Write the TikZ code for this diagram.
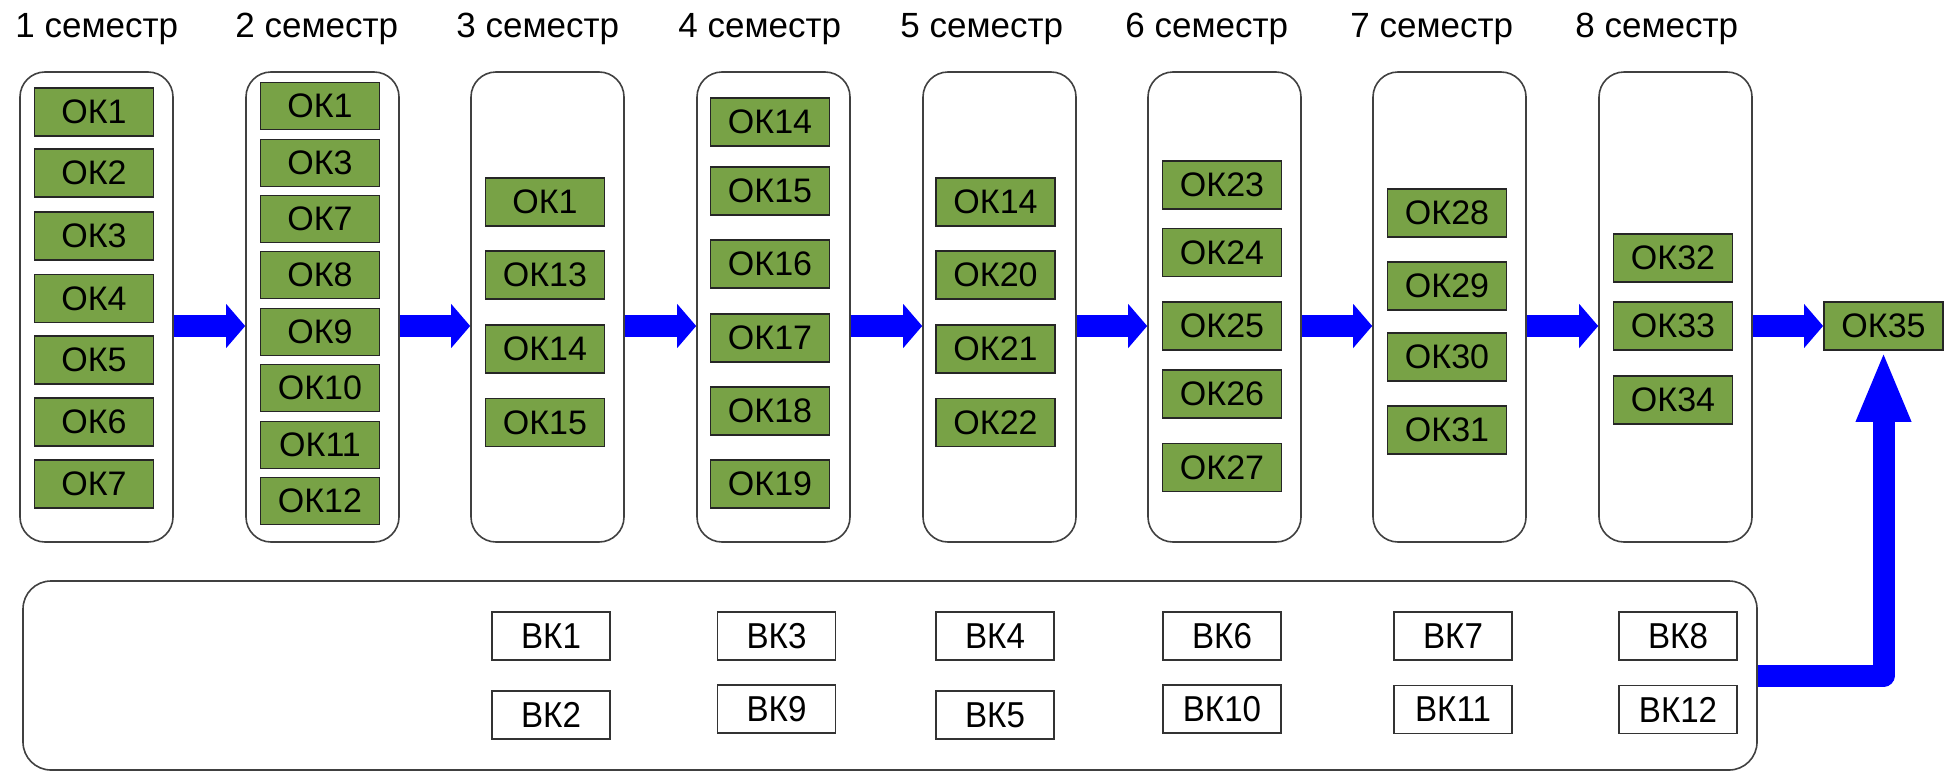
\documentclass[tikz,border=0pt]{standalone}
\usepackage{fontspec}
\setmainfont{Liberation Sans}
\newfontfamily\vkfont[FakeStretch=0.92]{Liberation Sans}
\usetikzlibrary{arrows.meta,calc}
\definecolor{okgreen}{RGB}{120,162,70}
\definecolor{arrowblue}{RGB}{0,0,255}
\definecolor{framegray}{RGB}{64,64,64}
\begin{document}
\begin{tikzpicture}[x=0.5pt,y=-0.5pt,
  semcol/.style={draw=framegray, line width=0.8pt, rounded corners=12.5pt, minimum width=76.5pt, minimum height=235pt, inner sep=0pt},
  okbox/.style={draw=black!85, fill=okgreen, line width=0.9pt, minimum width=59.5pt, minimum height=24pt, inner sep=0pt, font=\fontsize{17}{19}\selectfont},
  vkbox/.style={draw=black!80, fill=white, line width=0.9pt, minimum width=59pt, minimum height=24pt, inner sep=0pt, font=\vkfont\fontsize{18}{20}\selectfont},
  semtitle/.style={anchor=base west, inner sep=0pt, font=\fontsize{17.5}{20}\selectfont},
  flowarrow/.style={draw=arrowblue, line width=11pt, -{Triangle[width=21.5pt,length=9.5pt]}},
  bigarrow/.style={draw=arrowblue, line width=11pt, line join=round, -{Triangle[width=25pt,length=35.5pt]}}
]
\useasboundingbox (0,0) rectangle (1952,771);

% titles
\foreach \x/\n in {15/1,235/2,456/3,678/4,900/5,1125/6,1350/7,1575/8}
  \node[semtitle] (t\n) at (\x,37) {\n\ семестр};

% semester columns
\foreach \x/\n in {96.5/1,322.5/2,547.5/3,773.5/4,999.5/5,1224.5/6,1449.5/7,1675.5/8}
  \node[semcol] (c\n) at (\x,307) {};

% obligatory components
\foreach \y/\t [count=\i] in {112/ОК1,173/ОК2,236/ОК3,298.5/ОК4,360/ОК5,422/ОК6,484/ОК7}
  \node[okbox] (a1-\i) at (94,\y) {\t};
\foreach \y/\t [count=\i] in {106/ОК1,163/ОК3,219/ОК7,275/ОК8,332/ОК9,388/ОК10,445/ОК11,501/ОК12}
  \node[okbox, minimum height=23.5pt] (a2-\i) at (320,\y) {\t};
\foreach \y/\t [count=\i] in {202/ОК1,275/ОК13,349/ОК14,422.5/ОК15}
  \node[okbox] (a3-\i) at (545,\y) {\t};
\foreach \y/\t [count=\i] in {122/ОК14,191/ОК15,264/ОК16,338/ОК17,411/ОК18,484/ОК19}
  \node[okbox] (a4-\i) at (770,\y) {\t};
\foreach \y/\t [count=\i] in {202/ОК14,275/ОК20,349/ОК21,422.5/ОК22}
  \node[okbox] (a5-\i) at (995.5,\y) {\t};
\foreach \y/\t [count=\i] in {185/ОК23,252.5/ОК24,326/ОК25,394/ОК26,467.5/ОК27}
  \node[okbox] (a6-\i) at (1222,\y) {\t};
\foreach \y/\t [count=\i] in {213/ОК28,286/ОК29,357/ОК30,430/ОК31}
  \node[okbox] (a7-\i) at (1447,\y) {\t};
\foreach \y/\t [count=\i] in {258/ОК32,326/ОК33,400/ОК34}
  \node[okbox] (a8-\i) at (1673,\y) {\t};
\node[okbox] (ok35) at (1883.5,326) {ОК35};

% arrows between semesters
\coordinate (ya) at (0,326);
\foreach \a/\b in {1/2,2/3,3/4,4/5,5/6,6/7,7/8}
  \draw[flowarrow] (c\a.east |- ya) -- (c\b.west |- ya);
\draw[flowarrow] (c8.east |- ya) -- (ok35.west);

% elective components
\node[draw=framegray, line width=0.8pt, rounded corners=14pt, minimum width=867pt, minimum height=94.5pt, inner sep=0pt] (elect) at (890,675.5) {};
\node[vkbox] (v1) at (551,636) {ВК1};
\node[vkbox] (v2) at (551,715) {ВК2};
\node[vkbox] (v3) at (776.5,636) {ВК3};
\node[vkbox] (v9) at (776.5,709) {ВК9};
\node[vkbox] (v4) at (995,636) {ВК4};
\node[vkbox] (v5) at (995,715) {ВК5};
\node[vkbox] (v6) at (1222,636) {ВК6};
\node[vkbox] (v10) at (1222,709) {ВК10};
\node[vkbox] (v7) at (1453,636) {ВК7};
\node[vkbox] (v11) at (1453,709.5) {ВК11};
\node[vkbox] (v8) at (1678,636) {ВК8};
\node[vkbox] (v12) at (1678,709.5) {ВК12};

\draw[bigarrow] (elect.east) -| (ok35.south);
\end{tikzpicture}
\end{document}
